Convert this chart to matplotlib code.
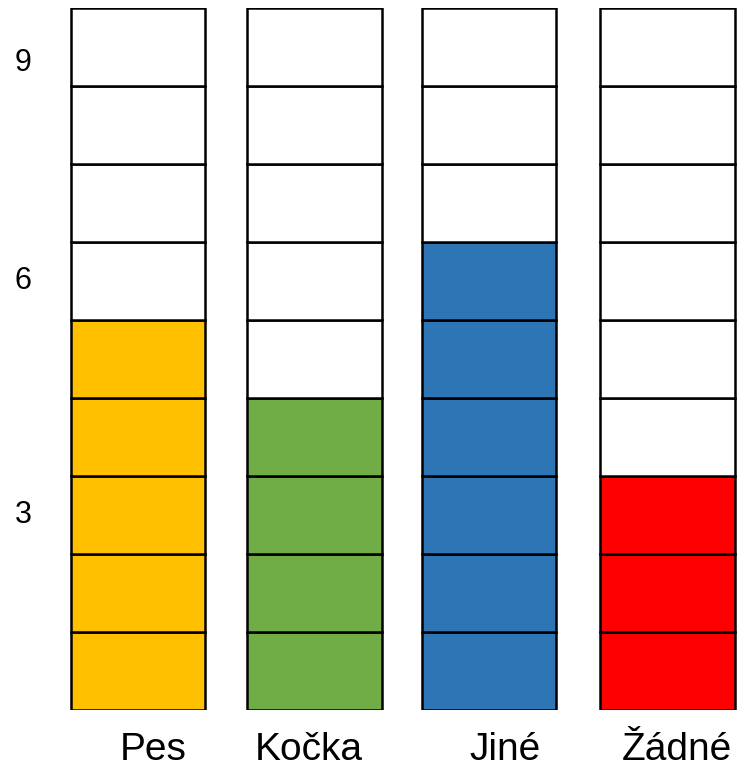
import matplotlib
matplotlib.use("Agg")
import matplotlib.pyplot as plt
from matplotlib.transforms import blended_transform_factory, offset_copy

categories = ["Pes", "Kočka", "Jiné", "Žádné"]
values = [5, 4, 6, 3]
colors = ["#FFC000", "#70AD47", "#2E75B6", "#FF0000"]
total_cells = 9
y_labels = ["3", "6", "9"]
y_label_pos = [2.5, 5.5, 8.3]

plt.rcParams['font.family'] = ['Liberation Sans', 'DejaVu Sans']

fig = plt.figure(figsize=(7.37, 7.71), dpi=100)
ax = fig.add_axes([0, 61/771, 1, 702/771])
ax.set_xlim(-138/176.5, (737-138)/176.5)
ax.set_ylim(0, total_cells)
ax.axis('off')

col_dx = [0, 0, -2, 0]
for i, (cat, v, c) in enumerate(zip(categories, values, colors)):
    tr = offset_copy(ax.transData, fig=fig, x=col_dx[i], y=0, units='dots')
    for k in range(total_cells):
        ax.bar(i, 1, bottom=k, width=0.76,
               color=c if k < v else "white",
               edgecolor="black", linewidth=1.8, zorder=2, transform=tr)

label_dx = [15, -6, 14, 9]
for i, cat in enumerate(categories):
    tr = offset_copy(ax.transData, fig=fig, x=label_dx[i], y=0, units='dots')
    ax.text(i, -0.51, cat, transform=tr, ha='center', va='center',
            fontsize=28, clip_on=False)

bt = blended_transform_factory(fig.transFigure, ax.transData)
for lab, pos in zip(y_labels, y_label_pos):
    ax.text(23/737, pos, lab, transform=bt, ha='center', va='center', fontsize=22)

fig.savefig("out.png", dpi=100)
